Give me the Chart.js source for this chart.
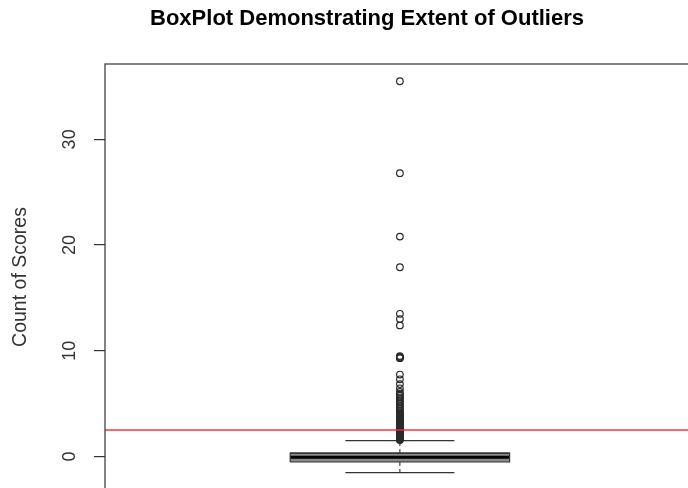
<!DOCTYPE html>
<html>
<head>
<meta charset="utf-8">
<script src="https://cdn.jsdelivr.net/npm/chart.js@4/dist/chart.umd.min.js"></script>
<style>
  html, body { margin: 0; padding: 0; background: #fff; overflow: hidden; }
  canvas { display: block; }
</style>
</head>
<body>
<canvas id="boxChart" width="700" height="500"></canvas>
<script>
// Statistiche del boxplot: baffo inferiore, Q1, mediana, Q3, baffo superiore
const boxStats = [-1.53, -0.52, -0.06, 0.32, 1.50];
// Valori anomali (la colonna fitta va da ~1.5 a ~6)
const outliers = [
  35.5, 26.8, 20.8, 17.9, 13.5, 13.0, 12.4,
  9.5, 9.42, 9.35, 9.3, 7.75, 7.3, 6.85, 6.45, 6.1,
  5.92, 5.75, 5.6, 5.44, 5.28, 5.12, 4.97, 4.81, 4.65, 4.49, 4.33, 4.18, 4.08,
  3.98, 3.91, 3.84, 3.77, 3.71, 3.64, 3.57, 3.5, 3.44, 3.37,
  3.3, 3.24, 3.17, 3.1, 3.03, 2.97, 2.9, 2.84, 2.77, 2.7,
  2.64, 2.57, 2.51, 2.44, 2.38, 2.31, 2.25, 2.18, 2.12, 2.05,
  1.99, 1.93, 1.87, 1.81, 1.75, 1.7, 1.65, 1.6, 1.56
];
// Linea rossa di riferimento
const cutoff = [2.5];
const yTicks = [0, 10, 20, 30];

const BOX_POS = 1;        // posizione del box sull'asse x
const BOX_HALF = 0.186;   // metà larghezza del box
const CAP_HALF = 0.0924;  // metà larghezza dei baffi

const [wLow, q1, med, q3, wHigh] = boxStats;
const font = "'Liberation Sans', Arial, sans-serif";

function seg(data, color, width, extra) {
  return Object.assign({
    data, showLine: true, pointRadius: 0, borderColor: color,
    borderWidth: width, fill: false, order: 2
  }, extra || {});
}

// Cornice del pannello (stile R: box completo attorno all'area dati)
const frame = {
  id: "frame",
  afterDraw(chart) {
    const { ctx, chartArea: a } = chart;
    ctx.save();
    ctx.strokeStyle = "#333";
    ctx.lineWidth = 1.2;
    ctx.strokeRect(a.left, a.top, a.right - a.left, a.bottom - a.top);
    ctx.restore();
  }
};

new Chart(document.getElementById("boxChart"), {
  type: "scatter",
  data: {
    datasets: [
      // riempimento del box
      seg([{ x: BOX_POS - BOX_HALF, y: q3 }, { x: BOX_POS + BOX_HALF, y: q3 }], "#333", 1.2,
          { fill: { value: q1 }, backgroundColor: "#8a8a8a", order: 4 }),
      seg([{ x: BOX_POS - BOX_HALF, y: q1 }, { x: BOX_POS + BOX_HALF, y: q1 },
           { x: BOX_POS + BOX_HALF, y: q3 }, { x: BOX_POS - BOX_HALF, y: q3 },
           { x: BOX_POS - BOX_HALF, y: q1 }], "#333", 1.2),
      // mediana
      seg([{ x: BOX_POS - BOX_HALF, y: med }, { x: BOX_POS + BOX_HALF, y: med }], "#000", 3),
      // baffi tratteggiati
      seg([{ x: BOX_POS, y: q3 }, { x: BOX_POS, y: wHigh }], "#222", 1, { borderDash: [4, 3] }),
      seg([{ x: BOX_POS, y: q1 }, { x: BOX_POS, y: wLow }], "#222", 1, { borderDash: [4, 3] }),
      // stanghette dei baffi
      seg([{ x: BOX_POS - CAP_HALF, y: wHigh }, { x: BOX_POS + CAP_HALF, y: wHigh }], "#333", 1.2),
      seg([{ x: BOX_POS - CAP_HALF, y: wLow }, { x: BOX_POS + CAP_HALF, y: wLow }], "#333", 1.2),
      // outlier come cerchi vuoti
      {
        data: outliers.map(v => ({ x: BOX_POS, y: v })),
        showLine: false,
        pointStyle: "circle",
        pointRadius: 3.3,
        pointBorderWidth: 1.2,
        borderColor: "#2a2a2a",
        backgroundColor: "rgba(0,0,0,0)",
        order: 1
      },
      // linea rossa orizzontale
      seg([{ x: 0.5, y: cutoff[0] }, { x: 1.5, y: cutoff[0] }], "rgba(255,40,40,0.7)", 2, { order: 0 })
    ]
  },
  options: {
    responsive: false,
    animation: false,
    events: [],
    layout: { padding: { left: 38, right: 4, top: 0, bottom: 10 } },
    plugins: {
      legend: { display: false },
      tooltip: { enabled: false },
      title: {
        display: true,
        text: "BoxPlot Demonstrating Extent of Outliers",
        color: "#000",
        font: { family: font, size: 22, weight: "bold" },
        padding: { top: 6, bottom: 31.6 }
      }
    },
    scales: {
      x: { type: "linear", min: 0.5, max: 1.5, display: false },
      y: {
        type: "linear",
        min: -3.17,
        max: 37.13,
        afterBuildTicks: (s) => { s.ticks = yTicks.map(v => ({ value: v })); },
        // larghezza fissa e niente margini extra dovuti alle etichette ruotate
        afterFit: (s) => { s.width = 67; s.paddingTop = 0; s.paddingBottom = 0; },
        border: { display: false },
        grid: { drawOnChartArea: false, drawTicks: true, tickLength: 11, color: "#333", lineWidth: 1.2 },
        ticks: {
          minRotation: 90, maxRotation: 90,
          crossAlign: "center",
          padding: 14,
          color: "#333",
          font: { family: font, size: 18 }
        },
        title: {
          display: true,
          text: "Count of Scores",
          color: "#333",
          font: { family: font, size: 19.5 },
          padding: { top: -29.2, bottom: 0 }
        }
      }
    }
  },
  plugins: [frame]
});
</script>
</body>
</html>
